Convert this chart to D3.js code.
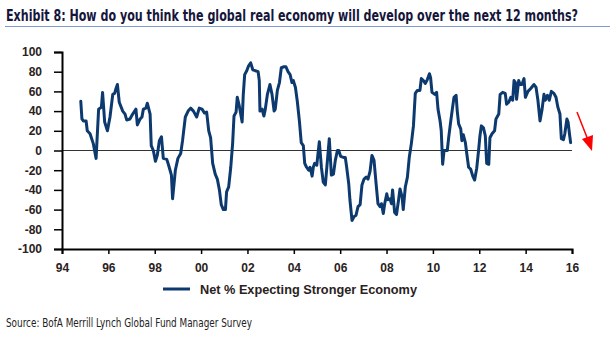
<!DOCTYPE html>
<html><head><meta charset="utf-8">
<script src="https://cdn.jsdelivr.net/npm/d3@7"></script>
<style>body{margin:0;background:#fff}svg{display:block}</style>
</head><body><svg id="c" width="610" height="341"></svg>
<script>
const titleText = "Exhibit 8: How do you think the global real economy will develop over the next 12 months?";
const sourceText = "Source: BofA Merrill Lynch Global Fund Manager Survey";
const seriesName = "Net % Expecting Stronger Economy";
const yTicks = [-100,-80,-60,-40,-20,0,20,40,60,80,100];
const xTicks = [1994,1996,1998,2000,2002,2004,2006,2008,2010,2012,2014,2016];
const xTickLabels = ["94","96","98","00","02","04","06","08","10","12","14","16"];
const dates = [1994.81,1994.86,1994.92,1995.04,1995.09,1995.21,1995.35,1995.47,1995.58,1995.70,1995.75,1995.84,1995.96,1996.07,1996.19,1996.27,1996.33,1996.39,1996.47,1996.62,1996.72,1996.79,1996.93,1997.05,1997.19,1997.25,1997.37,1997.45,1997.51,1997.62,1997.68,1997.80,1997.85,1997.94,1998.03,1998.11,1998.20,1998.29,1998.37,1998.52,1998.60,1998.72,1998.77,1998.89,1999.00,1999.12,1999.20,1999.32,1999.44,1999.55,1999.67,1999.81,1999.92,2000.04,2000.15,2000.24,2000.33,2000.41,2000.50,2000.61,2000.70,2000.79,2000.87,2000.96,2001.05,2001.10,2001.19,2001.28,2001.36,2001.42,2001.51,2001.56,2001.65,2001.77,2001.82,2001.88,2001.97,2002.05,2002.14,2002.23,2002.34,2002.46,2002.51,2002.54,2002.63,2002.71,2002.77,2002.86,2002.97,2003.06,2003.15,2003.20,2003.29,2003.38,2003.46,2003.58,2003.66,2003.75,2003.84,2003.92,2003.98,2004.07,2004.15,2004.24,2004.32,2004.41,2004.47,2004.55,2004.64,2004.70,2004.79,2004.84,2004.90,2004.99,2005.10,2005.19,2005.27,2005.36,2005.45,2005.53,2005.62,2005.71,2005.79,2005.88,2005.94,2006.02,2006.14,2006.22,2006.28,2006.37,2006.42,2006.51,2006.60,2006.68,2006.77,2006.86,2006.94,2007.03,2007.12,2007.20,2007.29,2007.37,2007.46,2007.55,2007.63,2007.72,2007.78,2007.86,2007.92,2008.01,2008.06,2008.15,2008.21,2008.26,2008.35,2008.43,2008.52,2008.58,2008.67,2008.72,2008.81,2008.90,2008.98,2009.07,2009.16,2009.24,2009.33,2009.44,2009.50,2009.59,2009.67,2009.76,2009.85,2009.90,2009.96,2010.08,2010.16,2010.22,2010.31,2010.36,2010.42,2010.48,2010.57,2010.62,2010.68,2010.77,2010.85,2010.91,2011.00,2011.05,2011.11,2011.20,2011.25,2011.31,2011.40,2011.46,2011.54,2011.63,2011.72,2011.80,2011.89,2011.97,2012.03,2012.09,2012.18,2012.26,2012.32,2012.41,2012.46,2012.55,2012.66,2012.72,2012.84,2012.90,2013.01,2013.12,2013.18,2013.27,2013.36,2013.44,2013.50,2013.56,2013.61,2013.70,2013.76,2013.84,2013.93,2013.99,2014.10,2014.22,2014.36,2014.45,2014.53,2014.62,2014.71,2014.79,2014.85,2014.94,2015.02,2015.11,2015.22,2015.31,2015.39,2015.48,2015.54,2015.63,2015.69,2015.78,2015.83,2015.89,2015.94];
const values = [50,32,30,30,20,17,7,-8,42,44,59,29,20,34,57,58,63,67,49,40,37,31,32,37,42,26,32,34,42,43,48,37,5,0,-11,-5,10,14,-8,-9,-15,-25,-49,-20,-8,-3,10,34,40,43,40,34,43,42,38,39,20,13,-13,-24,-29,-40,-55,-60,-60,-42,-37,-17,7,35,39,54,45,29,57,77,81,86,89,82,81,80,71,40,42,35,42,57,67,57,40,42,61,69,84,85,85,80,77,69,71,64,50,30,8,5,-13,-17,-20,-17,-26,-17,-13,-15,9,-17,-32,-35,-10,12,-25,-24,-10,0,0,-6,-7,-7,-17,-34,-50,-71,-67,-66,-57,-55,-35,-29,-27,-29,-21,-5,-10,-34,-54,-57,-54,-64,-54,-44,-50,-49,-54,-40,-63,-65,-50,-39,-47,-60,-37,-27,-7,7,25,58,61,61,73,71,68,72,78,74,59,57,59,42,30,20,-14,0,0,0,13,30,44,54,56,40,27,22,10,16,8,-3,-17,-19,-26,-30,-18,0,15,25,23,15,-13,-14,13,17,20,32,37,57,59,58,47,49,54,51,71,69,52,71,67,67,73,54,60,63,67,64,51,30,42,57,51,56,51,60,58,54,44,37,12,11,17,32,29,17,8];

const svg = d3.select("#c");
const lineColor = "#0d3a6e";
const boldFont = "'Liberation Sans', Arial, sans-serif";
const narrowFont = "'Liberation Sans Narrow', 'DejaVu Sans Condensed', 'Liberation Sans', sans-serif";

// Title
svg.append("text").attr("x", 6).attr("y", 21)
  .attr("font-family", narrowFont).attr("font-weight", "bold").attr("font-size", 15)
  .attr("fill", "#15163c").attr("textLength", 572).attr("lengthAdjust", "spacingAndGlyphs")
  .text(titleText);
svg.append("line").attr("x1", 5).attr("x2", 610).attr("y1", 26.5).attr("y2", 26.5)
  .attr("stroke", "#7f9bd0").attr("stroke-width", 1);

const x = d3.scaleLinear().domain([1994, 2016]).range([62, 572]);
const y = d3.scaleLinear().domain([-100, 100]).range([249, 52]);

// Zero line
svg.append("line").attr("x1", x(1994)).attr("x2", x(2016)).attr("y1", y(0)).attr("y2", y(0))
  .attr("stroke", "#333").attr("stroke-width", 1);

// Y axis
const yAxis = svg.append("g").attr("transform", `translate(${x(1994)},0)`)
  .call(d3.axisLeft(y).tickValues(yTicks).tickSize(8).tickPadding(12).tickFormat(d => String(d)));
yAxis.select(".domain").attr("stroke", "#000").attr("stroke-width", 2);
yAxis.selectAll(".tick line").attr("stroke", "#000").attr("stroke-width", 1.5);
yAxis.selectAll("text").attr("font-family", boldFont).attr("font-weight", "bold")
  .attr("font-size", 12).attr("fill", "#2a2222");

// X axis
const xAxis = svg.append("g").attr("transform", `translate(0,${y(-100)})`)
  .call(d3.axisBottom(x).tickValues(xTicks).tickSize(5).tickPadding(9)
    .tickFormat((d, i) => xTickLabels[i]));
xAxis.select(".domain").attr("stroke", "#000").attr("stroke-width", 2);
xAxis.selectAll(".tick line").attr("stroke", "#000").attr("stroke-width", 1.5);
xAxis.selectAll("text").attr("font-family", boldFont).attr("font-weight", "bold")
  .attr("font-size", 12).attr("fill", "#2a2222");

// Series line
const pts = dates.map((d, i) => [d, values[i]]);
svg.append("path").datum(pts)
  .attr("d", d3.line().x(d => x(d[0])).y(d => y(d[1])))
  .attr("fill", "none").attr("stroke", lineColor).attr("stroke-width", 3)
  .attr("stroke-linejoin", "round").attr("stroke-linecap", "round");

// Red arrow
svg.append("line").attr("x1", 577).attr("y1", 112).attr("x2", 588).attr("y2", 140)
  .attr("stroke", "#f00").attr("stroke-width", 1.5);
svg.append("path").attr("d", "M582,139 L592,151 L593,135 Z").attr("fill", "#f00");

// Legend
svg.append("line").attr("x1", 163).attr("x2", 190).attr("y1", 289).attr("y2", 289)
  .attr("stroke", lineColor).attr("stroke-width", 3);
svg.append("text").attr("x", 200).attr("y", 293.5)
  .attr("font-family", boldFont).attr("font-weight", "bold").attr("font-size", 12)
  .attr("fill", "#2a2222").attr("textLength", 217).attr("lengthAdjust", "spacingAndGlyphs")
  .text(seriesName);

// Source
svg.append("text").attr("x", 6).attr("y", 327)
  .attr("font-family", narrowFont).attr("font-size", 11.5)
  .attr("fill", "#222").attr("textLength", 246).attr("lengthAdjust", "spacingAndGlyphs")
  .text(sourceText);
</script>
</body></html>
